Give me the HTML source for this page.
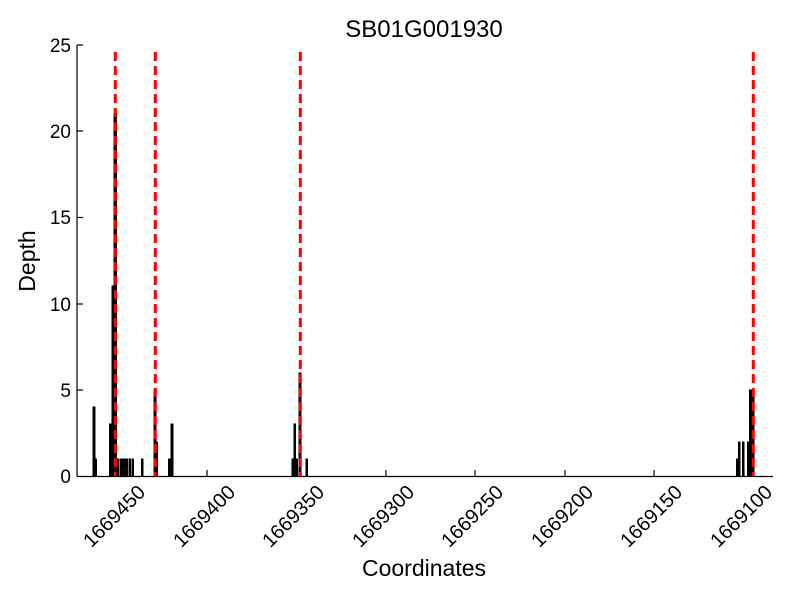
<!DOCTYPE html>
<html><head><style>body{margin:0;background:#fff}svg{display:block;font-family:"Liberation Sans",sans-serif}</style></head>
<body>
<svg width="800" height="600" xmlns="http://www.w3.org/2000/svg">
<rect width="800" height="600" fill="#fff"/>
<text x="424" y="37" font-size="24" text-anchor="middle">SB01G001930</text>
<g fill="#000" stroke="#000" stroke-width="1">
<rect x="93" y="407" width="2" height="69"/>
<rect x="95" y="459" width="1.5" height="17"/>
<rect x="109.5" y="424" width="2" height="52"/>
<rect x="112" y="286" width="2" height="190"/>
<rect x="114" y="114" width="2.5" height="362"/>
<rect x="117" y="459" width="1.5" height="17"/>
<rect x="120" y="459" width="1.5" height="17"/>
<rect x="122" y="459" width="1.5" height="17"/>
<rect x="124" y="459" width="1.5" height="17"/>
<rect x="126" y="459" width="1.5" height="17"/>
<rect x="129" y="459" width="1.5" height="17"/>
<rect x="132" y="459" width="1.5" height="17"/>
<rect x="141.5" y="459" width="1.5" height="17"/>
<rect x="154" y="390" width="2" height="86"/>
<rect x="156" y="442" width="1.5" height="34"/>
<rect x="168.5" y="459" width="1.5" height="17"/>
<rect x="171" y="424" width="2" height="52"/>
<rect x="292" y="459" width="1.5" height="17"/>
<rect x="294" y="424" width="1.5" height="52"/>
<rect x="296" y="459" width="1.5" height="17"/>
<rect x="299" y="373" width="2" height="103"/>
<rect x="306" y="459" width="1.5" height="17"/>
<rect x="736.5" y="459" width="1.5" height="17"/>
<rect x="738.5" y="442" width="1.5" height="34"/>
<rect x="742.5" y="442" width="1.5" height="34"/>
<rect x="747.5" y="442" width="1.5" height="34"/>
<rect x="749.5" y="390" width="2" height="86"/>
<rect x="752" y="390" width="2" height="86"/>
</g>
<g stroke="#f00" stroke-width="3" stroke-dasharray="9,5">
<line x1="115.3" y1="52" x2="115.3" y2="476"/>
<line x1="155.3" y1="52" x2="155.3" y2="476"/>
<line x1="300.3" y1="52" x2="300.3" y2="476"/>
<line x1="753.3" y1="52" x2="753.3" y2="476"/>
</g>
<g stroke="#000" stroke-width="1.2" fill="none">
<line x1="77" y1="45" x2="77" y2="476.5"/>
<line x1="77" y1="476.5" x2="773" y2="476.5"/>
<line x1="77" y1="390" x2="83" y2="390"/>
<line x1="77" y1="304" x2="83" y2="304"/>
<line x1="77" y1="217.5" x2="83" y2="217.5"/>
<line x1="77" y1="131" x2="83" y2="131"/>
<line x1="77" y1="45" x2="83" y2="45"/>
<line x1="117" y1="476" x2="117" y2="470"/>
<line x1="207" y1="476" x2="207" y2="470"/>
<line x1="296" y1="476" x2="296" y2="470"/>
<line x1="386" y1="476" x2="386" y2="470"/>
<line x1="475" y1="476" x2="475" y2="470"/>
<line x1="565" y1="476" x2="565" y2="470"/>
<line x1="654" y1="476" x2="654" y2="470"/>
<line x1="744" y1="476" x2="744" y2="470"/>
</g>
<g font-size="19" text-anchor="end">
<text x="71" y="483">0</text>
<text x="71" y="397">5</text>
<text x="71" y="311">10</text>
<text x="71" y="224">15</text>
<text x="71" y="138">20</text>
<text x="71" y="52">25</text>
</g>
<g font-size="20" text-anchor="middle">
<text transform="translate(114,516) rotate(-45)" dy="7">1669450</text>
<text transform="translate(204,516) rotate(-45)" dy="7">1669400</text>
<text transform="translate(293,516) rotate(-45)" dy="7">1669350</text>
<text transform="translate(383,516) rotate(-45)" dy="7">1669300</text>
<text transform="translate(472,516) rotate(-45)" dy="7">1669250</text>
<text transform="translate(562,516) rotate(-45)" dy="7">1669200</text>
<text transform="translate(651,516) rotate(-45)" dy="7">1669150</text>
<text transform="translate(741,516) rotate(-45)" dy="7">1669100</text>
</g>
<text x="424" y="576" font-size="23" text-anchor="middle">Coordinates</text>
<text transform="translate(35,261) rotate(-90)" font-size="23" text-anchor="middle">Depth</text>
</svg>
</body></html>
